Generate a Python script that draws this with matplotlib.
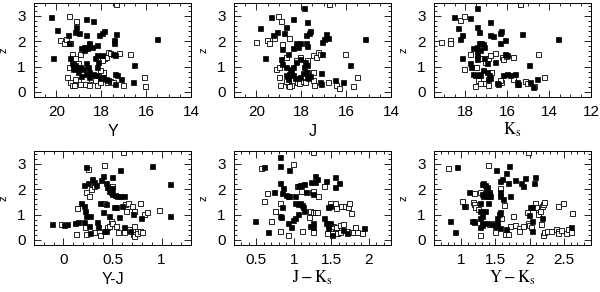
import numpy as np
import matplotlib
matplotlib.use('Agg')
import matplotlib.pyplot as plt
from matplotlib.ticker import MultipleLocator, FormatStrFormatter

plt.rcParams['font.family'] = ['Liberation Sans', 'DejaVu Sans']
plt.rcParams['mathtext.fontset'] = 'stix'

# panel 1: z vs Y
y_fill = [(20.24, 2.93), (19.98, 2.45), (19.49, 2.26), (19.12, 2.57), (19.0, 2.30), (19.16, 2.37),
          (18.70, 2.87), (18.35, 2.79), (18.67, 2.26), (18.08, 2.26), (17.98, 2.30), (17.86, 2.39),
          (17.34, 2.28), (17.43, 2.04), (17.43, 1.93), (15.53, 2.10), (19.46, 1.91), (18.57, 1.93),
          (18.53, 1.84), (18.79, 1.78), (18.64, 1.71), (18.42, 1.78), (18.20, 1.84), (18.91, 1.71),
          (18.79, 1.64), (20.17, 1.34), (19.41, 1.32), (19.31, 1.12), (19.27, 1.05), (19.16, 1.04),
          (19.12, 0.99), (18.94, 0.99), (18.82, 0.92), (18.67, 1.12), (18.61, 0.99), (18.53, 0.79),
          (18.35, 0.72), (18.20, 0.99), (18.13, 1.18), (18.27, 1.32), (18.20, 1.45), (17.98, 1.45),
          (17.49, 1.51), (17.39, 1.45), (16.54, 1.05), (19.27, 0.92), (19.06, 0.79), (18.91, 0.62),
          (18.67, 0.70), (18.53, 0.57), (18.20, 0.66), (17.93, 0.59), (17.79, 0.50), (17.68, 0.46),
          (17.39, 0.72), (17.31, 0.66), (17.13, 0.49), (16.57, 0.39), (17.39, 0.33), (18.05, 0.53)]
y_open = [(19.46, 2.99), (19.12, 2.80), (17.34, 3.46), (19.83, 2.04), (19.68, 1.93), (19.56, 2.07),
          (19.39, 1.91), (19.31, 1.51), (19.16, 1.32), (18.94, 1.51), (19.06, 1.12), (19.46, 0.99),
          (19.53, 0.57), (19.39, 0.39), (19.31, 0.26), (19.21, 0.26), (19.06, 0.46), (18.94, 0.33),
          (18.72, 0.33), (18.57, 0.26), (18.47, 0.49), (18.27, 0.46), (18.17, 0.26), (18.05, 0.39),
          (17.93, 0.79), (17.87, 1.32), (17.79, 1.38), (17.68, 1.58), (17.61, 1.55), (17.76, 0.39),
          (17.61, 0.43), (17.49, 0.39), (17.19, 1.54), (16.72, 1.49), (17.01, 0.26), (16.10, 0.57),
          (16.05, 0.22), (18.05, 0.86), (17.98, 1.25), (19.16, 0.49)]

# panel 2: z vs J
j_fill = [(19.36, 2.93), (19.86, 2.50), (19.27, 2.26), (19.09, 2.34), (18.67, 2.57), (18.79, 2.30),
          (18.35, 2.87), (17.87, 3.29), (17.76, 2.76), (17.61, 2.39), (17.79, 2.24), (17.67, 2.30),
          (16.90, 2.28), (16.99, 2.09), (16.79, 2.14), (17.07, 1.95), (15.16, 2.10), (18.87, 1.67),
          (18.61, 1.51), (18.23, 1.91), (18.13, 1.78), (18.35, 1.71), (18.05, 1.91), (17.73, 1.80),
          (17.79, 1.93), (17.09, 1.49), (19.61, 1.32), (18.90, 1.28), (18.87, 1.09), (18.67, 0.99),
          (18.50, 0.92), (18.35, 0.99), (18.23, 1.18), (18.05, 1.28), (17.90, 0.99), (17.83, 1.18),
          (17.76, 1.05), (17.93, 0.75), (17.79, 0.79), (17.73, 0.59), (17.61, 0.64), (18.67, 0.66),
          (18.47, 0.83), (18.53, 0.72), (18.35, 0.66), (18.05, 0.59), (18.27, 0.53), (18.61, 0.49),
          (17.13, 0.75), (17.16, 0.39), (17.13, 0.30), (16.50, 0.46), (16.16, 0.39), (15.83, 1.05),
          (17.68, 0.53)]
j_open = [(20.01, 1.97), (19.53, 2.04), (19.46, 1.93), (19.21, 2.14), (19.06, 2.99), (18.90, 2.80),
          (18.87, 1.88), (18.57, 2.14), (19.12, 0.92), (18.99, 0.99), (19.01, 0.57), (18.94, 0.26),
          (18.61, 0.46), (18.60, 0.29), (18.47, 0.26), (18.67, 0.43), (18.53, 0.22), (18.20, 0.39),
          (18.08, 0.36), (17.93, 0.43), (17.83, 0.39), (17.46, 0.79), (17.49, 0.46), (17.43, 0.26),
          (16.79, 0.39), (18.23, 1.25), (18.05, 1.38), (17.79, 1.18), (17.73, 1.25), (17.46, 1.45),
          (17.34, 1.38), (17.24, 1.58), (17.16, 1.51), (16.05, 1.49), (16.45, 0.26), (16.30, 0.17),
          (15.68, 0.22), (15.53, 0.57), (16.75, 3.46), (18.67, 1.38), (17.76, 0.79)]

# panel 3: z vs Ks
k_fill = [(18.53, 2.96), (17.45, 3.29), (17.77, 2.89), (18.37, 2.50), (18.17, 2.24), (18.25, 2.07),
          (17.45, 2.57), (17.37, 2.34), (16.82, 2.76), (16.82, 2.26), (16.66, 2.20), (16.37, 2.30),
          (16.29, 2.39), (16.34, 1.91), (16.10, 2.04), (15.31, 2.28), (13.60, 2.10), (17.64, 1.74),
          (17.43, 1.78), (17.35, 1.91), (17.25, 1.93), (17.15, 1.88), (17.10, 1.78), (17.30, 1.64),
          (17.43, 1.64), (17.45, 1.45), (17.45, 1.28), (18.17, 1.34), (17.79, 1.12), (17.74, 0.99),
          (17.13, 1.32), (16.97, 1.12), (16.57, 1.18), (16.10, 1.51), (16.03, 1.45), (14.98, 1.05),
          (17.64, 0.72), (17.53, 0.66), (17.37, 0.72), (17.16, 0.86), (16.97, 0.79), (16.85, 0.66),
          (16.82, 0.53), (16.50, 0.36), (16.42, 0.33), (16.18, 0.66), (16.03, 0.70), (15.86, 0.66),
          (15.63, 0.70), (15.54, 0.39), (15.47, 0.33), (14.91, 0.39), (14.75, 0.20), (14.59, 0.49),
          (17.29, 0.66), (16.94, 0.50)]
k_open = [(19.17, 1.95), (18.72, 2.04), (18.72, 1.91), (18.28, 2.83), (18.05, 2.99), (17.77, 1.51),
          (18.05, 0.92), (17.48, 0.99), (17.05, 1.18), (16.94, 1.32), (16.82, 1.45), (16.57, 1.54),
          (16.26, 1.38), (16.18, 1.28), (16.06, 1.41), (15.74, 1.38), (17.53, 0.24), (17.42, 0.46),
          (17.29, 0.36), (17.05, 0.36), (16.94, 0.26), (16.89, 0.75), (16.79, 0.79), (16.29, 0.39),
          (15.74, 0.49), (15.54, 0.30), (15.15, 0.42), (15.04, 0.36), (14.72, 0.22), (14.24, 0.57),
          (14.51, 1.49), (15.38, 3.46), (17.29, 1.32), (16.34, 0.46)]

# panel 4: z vs Y-J
yj_fill = [(-0.12, 0.64), (0.01, 0.58), (0.04, 0.62), (0.12, 0.66), (0.15, 0.71), (0.18, 1.47),
           (0.21, 2.16), (0.25, 2.24), (0.29, 2.39), (0.23, 2.86), (0.31, 2.29), (0.33, 2.16),
           (0.38, 2.34), (0.43, 2.24), (0.40, 2.53), (0.44, 2.07), (0.46, 1.93), (0.49, 2.46),
           (0.48, 1.87), (0.50, 1.80), (0.53, 1.76), (0.55, 1.71), (0.58, 1.71), (0.62, 1.71),
           (0.49, 2.03), (0.58, 2.76), (0.21, 1.34), (0.22, 1.14), (0.23, 0.95), (0.27, 0.95),
           (0.21, 0.71), (0.26, 0.55), (0.27, 0.29), (0.34, 0.71), (0.35, 0.49), (0.41, 0.36),
           (0.43, 0.36), (0.37, 1.45), (0.40, 1.08), (0.46, 0.95), (0.52, 1.28), (0.54, 1.28),
           (0.57, 0.91), (0.60, 1.34), (0.62, 0.49), (0.71, 1.01), (0.68, 0.36), (0.79, 0.88),
           (0.90, 2.89), (1.09, 2.22), (1.09, 0.95), (0.43, 1.41)]
yj_open = [(-0.02, 0.62), (0.13, 0.22), (0.23, 0.22), (0.25, 2.79), (0.23, 1.89), (0.26, 1.71),
           (0.28, 2.00), (0.31, 2.13), (0.41, 2.95), (0.14, 1.24), (0.22, 0.49), (0.31, 0.32),
           (0.37, 0.18), (0.44, 0.49), (0.41, 1.47), (0.48, 0.75), (0.46, 0.55), (0.50, 2.11),
           (0.50, 0.66), (0.54, 0.55), (0.56, 0.32), (0.62, 0.32), (0.63, 1.41), (0.66, 1.45),
           (0.64, 1.14), (0.70, 1.32), (0.72, 0.55), (0.72, 1.14), (0.78, 1.45), (0.82, 1.01),
           (0.85, 1.11), (0.75, 0.36), (0.71, 0.22), (0.72, 0.16), (0.75, 0.26), (0.78, 0.36),
           (0.80, 0.32), (0.97, 1.18), (0.61, 3.47), (0.67, 0.42)]

# panel 5: z vs J-Ks
jk_fill = [(0.48, 0.75), (0.66, 0.32), (0.60, 2.86), (0.81, 3.28), (0.81, 2.92), (0.93, 2.76),
           (0.81, 2.24), (0.86, 2.03), (0.84, 1.84), (0.73, 1.89), (0.90, 1.76), (0.92, 1.71),
           (0.94, 1.74), (1.02, 1.71), (1.06, 2.11), (1.08, 2.16), (1.10, 2.16), (1.13, 2.20),
           (1.02, 1.47), (1.05, 1.41), (1.08, 1.47), (1.11, 1.37), (1.13, 1.14), (1.12, 1.28),
           (1.06, 1.01), (1.02, 0.88), (0.99, 0.79), (0.92, 0.66), (0.83, 0.92), (0.82, 0.95),
           (0.84, 1.28), (0.96, 0.49), (1.16, 1.89), (1.23, 2.29), (1.28, 2.53), (1.29, 2.29),
           (1.31, 2.39), (1.26, 1.80), (1.21, 0.53), (1.26, 0.66), (1.26, 0.49), (1.43, 2.33),
           (1.55, 2.46), (1.55, 2.07), (1.60, 2.26), (1.46, 1.30), (1.48, 1.32), (1.40, 0.88),
           (1.43, 0.68), (1.46, 0.62), (1.48, 0.68), (1.46, 0.45), (1.51, 0.18), (1.66, 0.39),
           (1.71, 0.26), (1.94, 0.45)]
jk_open = [(0.56, 2.82), (0.99, 2.99), (0.64, 1.84), (0.60, 1.54), (0.75, 1.14), (0.70, 0.75),
           (0.82, 1.45), (0.82, 0.36), (0.92, 0.18), (1.11, 0.36), (1.04, 2.13), (1.09, 1.93),
           (1.22, 1.14), (1.25, 1.11), (1.28, 1.08), (1.31, 1.11), (1.20, 0.92), (1.24, 1.89),
           (1.25, 1.93), (1.33, 1.71), (1.40, 2.13), (1.26, 0.32), (1.49, 1.47), (1.55, 1.45),
           (1.57, 1.24), (1.63, 1.34), (1.68, 1.34), (1.72, 1.28), (1.74, 1.47), (1.77, 1.04),
           (1.53, 0.55), (1.57, 0.49), (1.62, 0.58), (1.66, 0.62), (1.55, 0.32), (1.58, 0.26),
           (1.44, 0.26), (1.51, 0.26), (1.71, 0.36), (1.76, 0.32), (1.79, 0.32), (1.84, 0.32),
           (1.82, 0.49), (1.91, 0.26), (1.26, 3.47), (1.62, 0.32)]

# panel 6: z vs Y-Ks
yk_fill = [(0.94, 2.86), (0.91, 0.32), (0.84, 0.75), (1.04, 1.32), (1.12, 1.89), (1.15, 0.75),
           (1.19, 0.71), (1.30, 2.20), (1.32, 2.24), (1.34, 2.16), (1.37, 2.07), (1.36, 1.97),
           (1.38, 1.87), (1.30, 1.80), (1.32, 1.71), (1.38, 1.74), (1.41, 1.84), (1.42, 1.74),
           (1.27, 1.45), (1.28, 1.14), (1.34, 1.14), (1.30, 0.95), (1.28, 0.88), (1.31, 0.66),
           (1.30, 0.58), (1.27, 0.49), (1.38, 0.66), (1.39, 1.45), (1.45, 0.62), (1.49, 0.55),
           (1.52, 0.71), (1.53, 0.88), (1.55, 1.01), (1.57, 1.08), (1.52, 0.55), (1.56, 0.45),
           (1.51, 2.76), (1.57, 2.33), (1.60, 2.39), (1.56, 1.87), (1.57, 1.71), (1.61, 1.63),
           (1.65, 2.63), (1.70, 2.92), (1.69, 2.24), (1.71, 1.74), (1.79, 2.37), (1.87, 2.24),
           (1.90, 2.11), (1.93, 2.42), (2.01, 1.28), (2.03, 1.28), (1.99, 0.97), (2.03, 0.75),
           (2.04, 0.36), (2.06, 2.24), (2.08, 2.49), (2.18, 0.88), (2.60, 0.49), (1.65, 0.42)]
yk_open = [(0.81, 2.82), (1.01, 1.54), (1.06, 1.32), (1.17, 1.50), (1.18, 1.41), (1.19, 1.84),
           (1.27, 1.87), (1.20, 1.28), (1.25, 1.21), (1.19, 0.75), (1.28, 0.18), (1.39, 2.95),
           (1.39, 1.74), (1.41, 1.89), (1.40, 0.62), (1.49, 0.32), (1.51, 0.66), (1.46, 0.66),
           (1.57, 2.03), (1.58, 0.88), (1.63, 1.37), (1.64, 0.22), (1.68, 0.22), (1.72, 0.55),
           (1.75, 0.95), (1.79, 0.58), (1.84, 0.45), (1.85, 0.36), (1.90, 0.53), (1.96, 1.11),
           (1.98, 0.66), (1.99, 0.58), (2.02, 0.49), (2.08, 1.47), (2.09, 1.28), (2.12, 1.11),
           (2.13, 1.01), (2.15, 1.14), (2.18, 1.32), (2.20, 1.41), (2.21, 1.50), (2.17, 0.62),
           (2.19, 0.18), (2.21, 0.32), (2.26, 0.36), (2.32, 0.36), (2.38, 0.42), (2.41, 0.36),
           (2.41, 1.32), (2.49, 1.45), (2.42, 0.26), (2.46, 0.39), (2.53, 0.26), (2.56, 0.42),
           (2.61, 0.32), (2.62, 1.05), (1.98, 3.47)]

panels = [
    (y_fill, y_open, 'Y', (21, 14), 2, 0.5),
    (j_fill, j_open, 'J', (21, 14), 2, 0.5),
    (k_fill, k_open, r'$\mathrm{K_s}$', (19.5, 12), 2, 0.5),
    (yj_fill, yj_open, 'Y-J', (-0.3, 1.3), 0.5, 0.1),
    (jk_fill, jk_open, r'$\mathrm{J-K_s}$', (0.2, 2.3), 0.5, 0.1),
    (yk_fill, yk_open, r'$\mathrm{Y-K_s}$', (0.6, 2.9), 0.5, 0.1),
]

fig = plt.figure(figsize=(6, 2.92), dpi=100)
W, H = 600., 292.
for i, (filled, opened, xlab, xlim, major, minor) in enumerate(panels):
    col, row = i % 3, i // 3
    left = 34 + 200 * col
    top = 3 if row == 0 else 151
    ax = fig.add_axes([left / W, 1 - (top + 94) / H, 157 / W, 94 / H])
    f = np.array(filled)
    o = np.array(opened)
    ax.plot(o[:, 0], o[:, 1], 's', ms=3.6, mfc='white', mec='black', mew=0.6)
    ax.plot(f[:, 0], f[:, 1], 's', ms=3.6, mfc='black', mec='black', mew=0.5)
    ax.set_xlim(*xlim)
    ax.set_ylim(-0.2, 3.5)
    ax.xaxis.set_major_locator(MultipleLocator(major))
    ax.xaxis.set_minor_locator(MultipleLocator(minor))
    ax.xaxis.set_major_formatter(FormatStrFormatter('%g'))
    ax.yaxis.set_major_locator(MultipleLocator(1))
    ax.yaxis.set_minor_locator(MultipleLocator(0.2))
    ax.tick_params(which='both', direction='in', top=True, right=True, width=0.6, labelsize=11)
    ax.tick_params(which='major', length=5, pad=6)
    ax.tick_params(which='minor', length=2.5)
    for s in ax.spines.values():
        s.set_linewidth(0.7)
    if xlab.startswith('$'):
        ax.set_xlabel(xlab, fontsize=12, labelpad=1)
    else:
        ax.set_xlabel(xlab, fontsize=11.5, labelpad=3)
    ax.set_ylabel('z', fontsize=8, labelpad=6)

fig.savefig('out.png', dpi=100)
